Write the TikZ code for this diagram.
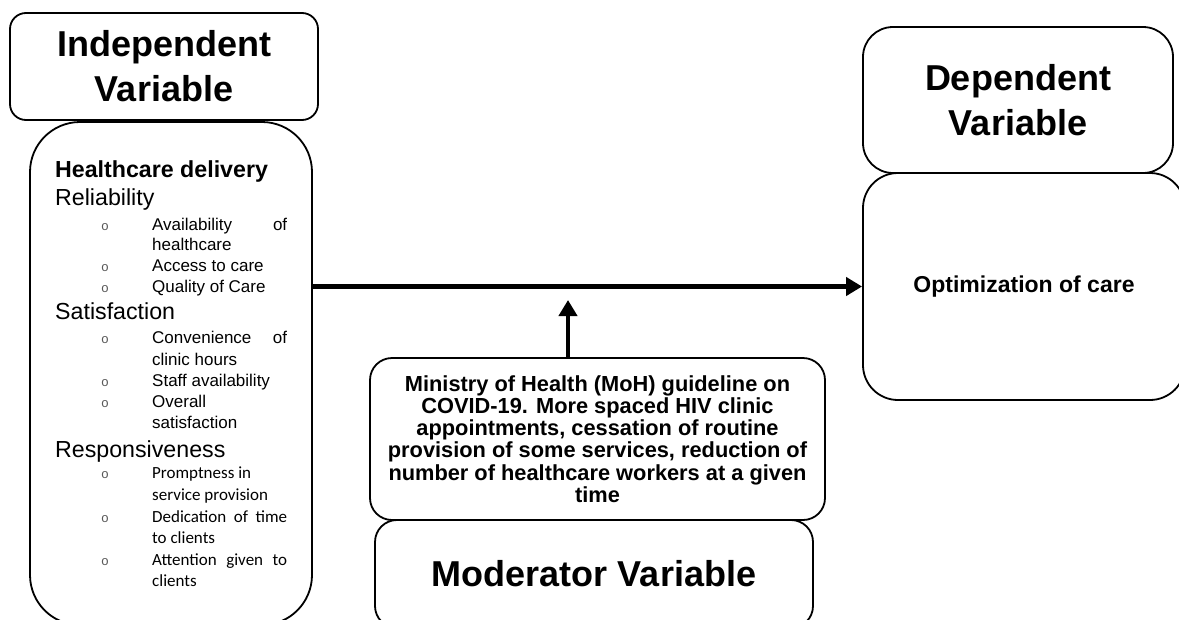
\documentclass[tikz,border=0pt]{standalone}
\usepackage{fontspec}
\setmainfont{Liberation Sans}
\newfontfamily\calib{Carlito}
\newfontfamily\monof{Liberation Mono}
\usetikzlibrary{arrows.meta,positioning}

\tikzset{
  varbox/.style={draw, line width=1.8pt, fill=white, rounded corners=#1},
  varbox/.default=16pt,
  bigtitle/.style={font=\fontsize{36}{45}\selectfont\bfseries, align=center},
  head/.style={anchor=base west, font=\fontsize{23.2}{28}\selectfont},
  item/.style={anchor=base west, inner sep=0pt, font=\fontsize{17}{21}\selectfont},
  citem/.style={anchor=base west, inner sep=0pt, font=\fontsize{17}{21}\selectfont\calib},
  bul/.style={anchor=base, inner sep=0pt, text=black!65, font=\fontsize{13}{15}\selectfont\monof},
  link/.style={line width=4.5pt, -{Triangle[length=16pt,width=18pt]}},
}
\newcommand{\spread}[1]{\makebox[135pt][s]{#1}}

\begin{document}
\begin{tikzpicture}[x=1pt,y=-1pt]
  \clip (0,0) rectangle (1179,619);
  % independent side
  \node[varbox=50pt, minimum width=282pt, minimum height=503pt] (delivery) at (171,373.5) {};
  \node[varbox, minimum width=308pt, minimum height=107pt, bigtitle] (indep) at (164,66.5) {Independent\\Variable};
  \node[head, inner sep=0pt, font=\fontsize{23.2}{28}\selectfont\bfseries] (hdel) at (55,177) {Healthcare delivery};
  \foreach \y/\t in {205/Reliability,319/Satisfaction,457/Responsiveness} {
    \node[head, inner sep=0pt] (head\y) at (55,\y) {\t};
  }
  \foreach \y in {230,271,292,343,386,407,478,522,565} {
    \node[bul] (bul\y) at (105,\y) {o};
  }
  \foreach \y/\t in {230/\spread{Availability of},250/healthcare,271/Access to care,292/Quality of Care,343/\spread{Convenience of},365/clinic hours,386/Staff availability,407/Overall,428/satisfaction} {
    \node[item] (item\y) at (152,\y) {\t};
  }
  \foreach \y/\t in {478/Promptness in,500/service provision,522/\spread{Dedication of time},543/to clients,565/\spread{Attention given to},586/clients} {
    \node[citem] (item\y) at (152,\y) {\t};
  }
  % dependent side
  \node[varbox=30pt, minimum width=310pt, minimum height=146pt, bigtitle] (dep) at (1018,100) {Dependent\\Variable};
  \node[varbox=35pt, minimum width=322pt, minimum height=227pt, font=\fontsize{23}{28}\selectfont\bfseries] (optim) at (1024,286.5) {Optimization of care};
  % moderator
  \node[varbox=22pt, minimum width=455pt, minimum height=162pt, align=center, font=\fontsize{21.8}{22.2}\selectfont\bfseries] (guide) at (597.5,439) {Ministry of Health (MoH) guideline on\\COVID-19. More spaced HIV clinic\\appointments, cessation of routine\\provision of some services, reduction of\\number of healthcare workers at a given\\time};
  \node[varbox=22pt, minimum width=438pt, minimum height=108pt, bigtitle] (moder) at (594,574) {Moderator Variable};
  % arrows
  \coordinate (lift) at (568,300);
  \draw[link] (lift |- guide.north) -- (lift);
  \draw[link] (delivery.east |- optim.west) -- (optim.west);
\end{tikzpicture}
\end{document}
